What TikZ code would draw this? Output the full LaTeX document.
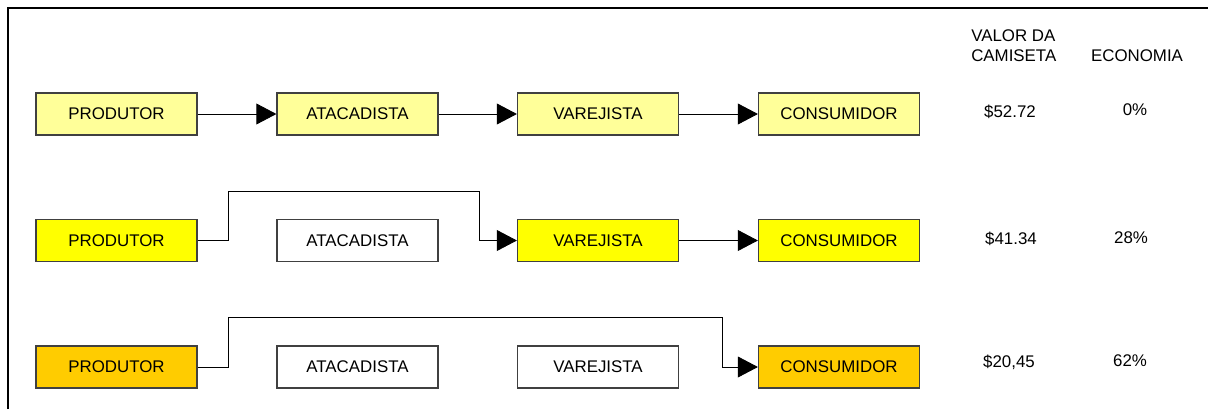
\documentclass[tikz,border=0pt]{standalone}
\usepackage{fontspec}
\setmainfont{Liberation Sans}
\usetikzlibrary{arrows.meta}
\definecolor{palido}{HTML}{FFFF99}
\definecolor{amarelo}{HTML}{FFFF00}
\definecolor{laranja}{HTML}{FFCC00}
\definecolor{borda}{HTML}{404040}

\begin{document}
\begin{tikzpicture}[x=0.025cm,y=-0.025cm,
	font=\fontsize{12}{14.2}\selectfont,
	elo/.style={draw=borda,line width=0.8pt,minimum width=4.025cm,minimum height=1.05cm,inner sep=0pt},
	seta/.style={-{Triangle[length=0.5cm,width=0.52cm]},line width=0.6pt},
	valor/.style={inner sep=0pt}]
	\useasboundingbox (0,0) rectangle (1208,409);
	\draw[line width=1.4pt] (8,409) -- (8,8) -- (1208,8);
	% cabecalho
	\node[valor,anchor=west,align=left] (hvalor) at (971,46) {VALOR DA\\CAMISETA};
	\node[valor] (hecon) at (1137,56) {ECONOMIA};
	% cadeia completa
	\node[elo,fill=palido] (p1) at (116.5,114) {PRODUTOR};
	\node[elo,fill=palido] (a1) at (357.5,114) {ATACADISTA};
	\node[elo,fill=palido] (v1) at (598,114) {VAREJISTA};
	\node[elo,fill=palido] (c1) at (839,114) {CONSUMIDOR};
	\draw[seta] (p1) -- (a1);
	\draw[seta] (a1) -- (v1);
	\draw[seta] (v1) -- (c1);
	\node[valor] (r1) at (1010,112) {\$52.72};
	\node[valor] (e1) at (1135,110) {0\%};
	% sem atacadista
	\node[elo,fill=amarelo] (p2) at (116.5,240.5) {PRODUTOR};
	\node[elo,fill=white] (a2) at (357.5,240.5) {ATACADISTA};
	\node[elo,fill=amarelo] (v2) at (598,240.5) {VAREJISTA};
	\node[elo,fill=amarelo] (c2) at (839,240.5) {CONSUMIDOR};
	\coordinate (s2a) at (228,191);
	\coordinate (s2b) at (479,191);
	\draw[seta] (p2.east) -| (s2a) -- (s2b) |- (v2.west);
	\draw[seta] (v2) -- (c2);
	\node[valor] (r2) at (1011,239) {\$41.34};
	\node[valor] (e2) at (1131,238) {28\%};
	% direto ao consumidor
	\node[elo,fill=laranja] (p3) at (116.5,367) {PRODUTOR};
	\node[elo,fill=white] (a3) at (357.5,367) {ATACADISTA};
	\node[elo,fill=white] (v3) at (598,367) {VAREJISTA};
	\node[elo,fill=laranja] (c3) at (839,367) {CONSUMIDOR};
	\coordinate (s3a) at (228,317);
	\coordinate (s3b) at (722,317);
	\draw[seta] (p3.east) -| (s3a) -- (s3b) |- (c3.west);
	\node[valor] (r3) at (1009,362) {\$20,45};
	\node[valor] (e3) at (1130,361) {62\%};
\end{tikzpicture}
\end{document}
